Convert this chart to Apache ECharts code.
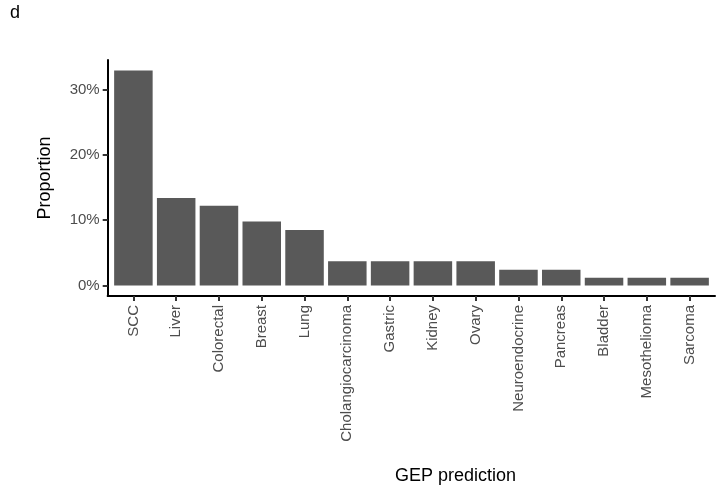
<!DOCTYPE html>
<html>
<head>
<meta charset="utf-8">
<script src="https://cdn.jsdelivr.net/npm/echarts@6/dist/echarts.min.js"></script>
<style>
html,body{margin:0;padding:0;background:#fff;}
#c{width:726px;height:488px;}
</style>
</head>
<body>
<div id="c"></div>
<script>
const categories = ["SCC","Liver","Colorectal","Breast","Lung","Cholangiocarcinoma","Gastric","Kidney","Ovary","Neuroendocrine","Pancreas","Bladder","Mesothelioma","Sarcoma"];
const proportions = [32.9, 13.4, 12.2, 9.8, 8.5, 3.7, 3.7, 3.7, 3.7, 2.4, 2.4, 1.2, 1.2, 1.2];
const yTicks = [0, 10, 20, 30];

const chart = echarts.init(document.getElementById('c'), null, {renderer:'canvas'});
const font = 'Liberation Sans, Arial, sans-serif';
chart.setOption({
  animation:false,
  backgroundColor:'#fff',
  graphic:[
    {type:'text', left:10, top:4, style:{text:'d', font:'18px ' + font, fill:'#000'}}
  ],
  grid:[
    {left:112, right:15, top:60, bottom:192},
    {left:107.6, right:11, top:60, bottom:192}
  ],
  xAxis:[
    {
      type:'category', gridIndex:0, data:categories,
      name:'GEP prediction', nameLocation:'middle', nameGap:171,
      nameTextStyle:{fontFamily:font, fontSize:18, color:'#000', padding:[0,0,0,88]},
      axisLine:{show:false, onZero:false},
      axisTick:{show:true, alignWithLabel:true, length:5, lineStyle:{color:'#333', width:2}},
      axisLabel:{rotate:90, interval:0, margin:9, fontFamily:font, fontSize:15, color:'#4d4d4d'},
      splitLine:{show:false}
    },
    {
      type:'value', gridIndex:1, min:0, max:1,
      axisLine:{show:true, onZero:false, lineStyle:{color:'#000', width:2}},
      axisTick:{show:false}, axisLabel:{show:false}, splitLine:{show:false}
    }
  ],
  yAxis:[
    {
      type:'value', gridIndex:0, min:-1.6, max:34.5, offset:4.3,
      name:'Proportion', nameLocation:'middle', nameGap:54, nameRotate:90,
      nameTextStyle:{fontFamily:font, fontSize:18, color:'#000'},
      axisLine:{show:true, onZero:false, lineStyle:{color:'#000', width:2}},
      axisTick:{show:true, length:5, customValues:yTicks, lineStyle:{color:'#333', width:2}},
      axisLabel:{customValues:yTicks, margin:8, fontFamily:font, fontSize:15, color:'#4d4d4d', formatter: v => v + '%'},
      splitLine:{show:false}
    },
    {
      type:'value', gridIndex:1, min:0, max:1, show:false
    }
  ],
  series:[{
    type:'bar', xAxisIndex:0, yAxisIndex:0, data:proportions,
    barWidth:'90%', itemStyle:{color:'#595959'}
  }]
});
</script>
</body>
</html>
